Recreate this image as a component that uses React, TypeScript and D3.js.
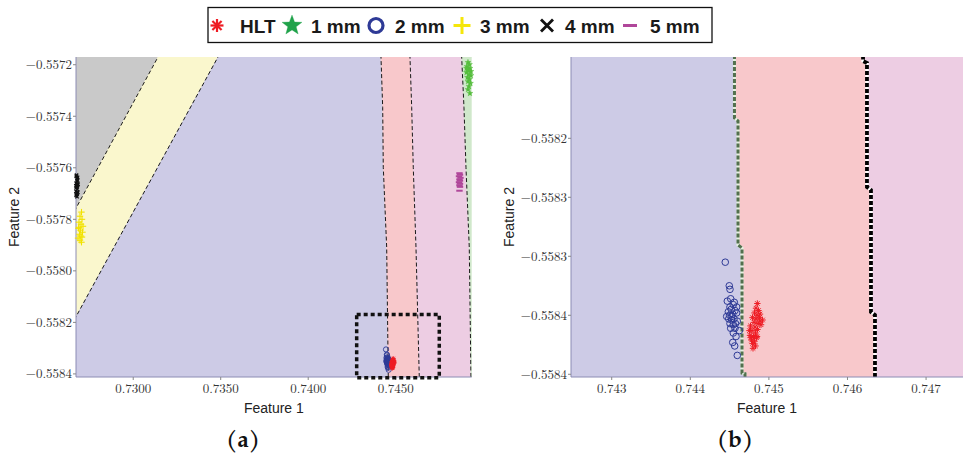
import React from 'react';
import * as d3 from 'd3';

type P = [number, number];

// ---------- tick values & labels ----------
const leftXTicks = [0.73, 0.735, 0.74, 0.745];
const leftXTickLabels = ['0.7300', '0.7350', '0.7400', '0.7450'];
const leftYTicks = [-0.5572, -0.5574, -0.5576, -0.5578, -0.558, -0.5582, -0.5584];
const leftYTickLabels = ['−0.5572', '−0.5574', '−0.5576', '−0.5578', '−0.5580', '−0.5582', '−0.5584'];
const rightXTicks = [0.743, 0.744, 0.745, 0.746, 0.747];
const rightXTickLabels = ['0.743', '0.744', '0.745', '0.746', '0.747'];
const rightYTicks = [-0.5582, -0.55825, -0.5583, -0.55835, -0.5584];
const rightYTickLabels = ['−0.5582', '−0.5583', '−0.5583', '−0.5584', '−0.5584'];

// ---------- legend ----------
const legendLabels = ['HLT', '1 mm', '2 mm', '3 mm', '4 mm', '5 mm'];

// ---------- data points (Feature 1, Feature 2) ----------
const hltPoints: P[] = [
  [0.744853, -0.55834], [0.744836, -0.558344], [0.744868, -0.558346], [0.744817, -0.558348],
  [0.744849, -0.55835], [0.744887, -0.558349], [0.744792, -0.558352], [0.744836, -0.558353],
  [0.744881, -0.558352], [0.744919, -0.558354], [0.744811, -0.558356], [0.744862, -0.558357],
  [0.7449, -0.558358], [0.744766, -0.558359], [0.744823, -0.55836], [0.744855, -0.558362],
  [0.744785, -0.558363], [0.74483, -0.558365], [0.74476, -0.558367], [0.744804, -0.558368],
  [0.744842, -0.558369], [0.744779, -0.558371], [0.744817, -0.558372], [0.744792, -0.558374],
  [0.74483, -0.558376], [0.744798, -0.558378], [0.744753, -0.558363], [0.744887, -0.558355],
  [0.744849, -0.558368], [0.744772, -0.558369],
];
const mm2Points: P[] = [
  [0.744445, -0.558305], [0.744496, -0.558325], [0.744505, -0.558328], [0.744471, -0.558338],
  [0.744514, -0.558336], [0.744547, -0.558341], [0.744505, -0.558343], [0.744569, -0.558346],
  [0.744484, -0.558347], [0.74454, -0.558349], [0.74459, -0.558348], [0.744489, -0.558353],
  [0.744527, -0.558354], [0.744598, -0.558355], [0.744547, -0.558358], [0.744505, -0.558357],
  [0.744569, -0.558361], [0.744624, -0.558363], [0.744582, -0.558368], [0.74454, -0.558373],
  [0.744565, -0.558376], [0.744598, -0.558384], [0.744463, -0.558351], [0.744527, -0.558351],
  [0.744556, -0.558353], [0.744514, -0.558361], [0.744547, -0.558365], [0.74459, -0.558343],
  [0.74452, -0.558345], [0.74456, -0.558339], [0.7445, -0.55835], [0.744575, -0.558357],
];
const mm1Points: P[] = [
  [0.74913, -0.557191], [0.749216, -0.557199], [0.749073, -0.557207], [0.749244, -0.557214],
  [0.749159, -0.557222], [0.749044, -0.55723], [0.749187, -0.557238], [0.749301, -0.557242],
  [0.749101, -0.557249], [0.749216, -0.557257], [0.74913, -0.557265], [0.749273, -0.557272],
  [0.749187, -0.557284], [0.74913, -0.557296], [0.749244, -0.557311], [0.749044, -0.557214],
  [0.749301, -0.557226],
];
const mm3Points: P[] = [
  [0.727044, -0.557772], [0.726959, -0.557788], [0.727073, -0.5578], [0.726901, -0.557811],
  [0.727016, -0.557819], [0.72713, -0.557827], [0.726873, -0.557835], [0.726987, -0.557842],
  [0.727101, -0.55785], [0.72693, -0.557858], [0.727016, -0.557865], [0.726844, -0.557873],
  [0.726959, -0.557881], [0.727044, -0.557889], [0.726901, -0.557831], [0.727073, -0.557869],
];
const mm4Points: P[] = [
  [0.726759, -0.557629], [0.726816, -0.557637], [0.726719, -0.557645], [0.726787, -0.557652],
  [0.726741, -0.55766], [0.726844, -0.557664], [0.726776, -0.557672], [0.726701, -0.55768],
  [0.726804, -0.557683], [0.72673, -0.557691], [0.726833, -0.557695], [0.726759, -0.557703],
  [0.726787, -0.557712], [0.72673, -0.55767], [0.726816, -0.557648], [0.726745, -0.557633],
  [0.726801, -0.557641], [0.726724, -0.557656], [0.726812, -0.557668], [0.726752, -0.557676],
  [0.726724, -0.557687], [0.726795, -0.557699], [0.726741, -0.557707],
];
const mm5Points: P[] = [
  [0.748644, -0.557621], [0.748673, -0.557627], [0.748616, -0.557633], [0.748701, -0.557639],
  [0.748644, -0.557645], [0.748673, -0.55765], [0.748616, -0.557656], [0.748673, -0.557662],
  [0.748644, -0.557668], [0.748673, -0.557674], [0.748644, -0.557689],
];

// ---------- decision boundaries (bottom -> top) ----------
const leftB43: P[] = [[0.7215, -0.558412], [0.731416, -0.55717]];
const leftB32: P[] = [[0.724846, -0.558412], [0.734844, -0.55717]];
const leftB2H: P[] = [[0.744576, -0.558412], [0.744484, -0.557908], [0.74429, -0.557598], [0.744256, -0.557365], [0.744159, -0.55717]];
const leftBH5: P[] = [[0.746347, -0.558412], [0.746159, -0.557908], [0.746004, -0.557598], [0.745913, -0.557365], [0.745816, -0.55717]];
const leftB51: P[] = [[0.749301, -0.558412], [0.749204, -0.557908], [0.749016, -0.557598], [0.748901, -0.557365], [0.74877, -0.55717]];
const zoomBox: P[] = [[0.74277, -0.558415], [0.74749, -0.558169]];

const rightB2H: P[] = [
  [0.744696, -0.5584023], [0.744696, -0.5583995], [0.744658, -0.558399], [0.744658, -0.558293],
  [0.744607, -0.5582904], [0.744607, -0.5581853], [0.744562, -0.5581828], [0.744562, -0.5581311],
];
const rightBH5: P[] = [
  [0.74635, -0.5584023], [0.74635, -0.5583497], [0.746299, -0.5583472], [0.746299, -0.5582438],
  [0.746248, -0.5582413], [0.746248, -0.5581362], [0.746198, -0.5581345], [0.746198, -0.5581311],
];

const C = {
  gray: '#c9c9c9', yellow: '#faf7cd', lav: '#cdcbe6', pink: '#f8c8cb', mag: '#edcde3', green: '#d0e8cb',
  red: '#ee1c24', blue: '#2e3a96', lgreen: '#20a24a', dgreen: '#55bd3c', yel: '#f2e200', mgt: '#b0479a',
};

type MType = 'asterisk' | 'star' | 'circle' | 'plus' | 'cross' | 'dash';

function starPath(cx: number, cy: number, r: number) {
  const pts: string[] = [];
  for (let i = 0; i < 10; i++) {
    const rr = i % 2 === 0 ? r : r * 0.42;
    const a = -Math.PI / 2 + (i * Math.PI) / 5;
    pts.push(`${cx + rr * Math.cos(a)},${cy + rr * Math.sin(a)}`);
  }
  return 'M' + pts.join('L') + 'Z';
}

function Marker({ t, x, y, s, color, sw }: { t: MType; x: number; y: number; s: number; color: string; sw: number }) {
  if (t === 'circle') return <circle cx={x} cy={y} r={s} fill="none" stroke={color} strokeWidth={sw} />;
  if (t === 'star') return <path d={starPath(x, y, s)} fill={color} stroke={color} strokeWidth={sw * 0.3} />;
  let angles: number[] = [];
  if (t === 'asterisk') angles = [0, 45, 90, 135];
  if (t === 'plus') angles = [0, 90];
  if (t === 'cross') angles = [45, 135];
  if (t === 'dash') angles = [0];
  return (
    <g stroke={color} strokeWidth={sw} strokeLinecap="butt">
      {angles.map((a) => {
        const r = (a * Math.PI) / 180;
        const dx = Math.cos(r) * s, dy = Math.sin(r) * s;
        return <line key={a} x1={x - dx} y1={y - dy} x2={x + dx} y2={y + dy} />;
      })}
    </g>
  );
}

type Series = { pts: P[]; t: MType; color: string; s: number; sw: number };

type PanelProps = {
  id: string;
  xs: d3.ScaleLinear<number, number>;
  ys: d3.ScaleLinear<number, number>;
  regions: { a: P[]; b: P[]; fill: string }[];
  lines: { pts: P[]; kind: 'thin' | 'green' | 'black' }[];
  series: Series[];
  xTicks: number[]; xLabels: string[]; yTicks: number[]; yLabels: string[];
  caption: string;
  captionX: number;
  box?: P[];
};

function Panel(p: PanelProps) {
  const [x0, x1] = p.xs.range();
  const [y0, y1] = p.ys.range(); // y0 bottom, y1 top
  const line = d3.line<P>().x((d) => p.xs(d[0])).y((d) => p.ys(d[1]));
  const poly = (a: P[], b: P[]) => line([...a, ...b.slice().reverse()]) + 'Z';
  const [dx0, dx1] = p.xs.domain();
  const [dy0, dy1] = p.ys.domain();
  const inDom = (d: P) => d[0] >= dx0 && d[0] <= dx1 && d[1] >= dy0 && d[1] <= dy1;
  const tickFont = { fontFamily: '"Latin Modern Roman","CMU Serif","Liberation Serif",serif', fontSize: 13, fill: '#333' };
  const cy = (y0 + y1) / 2;
  return (
    <g>
      <defs>
        <clipPath id={p.id}>
          <rect x={x0} y={y1} width={x1 - x0} height={y0 - y1} />
        </clipPath>
      </defs>
      <g clipPath={`url(#${p.id})`}>
        {p.regions.map((r, i) => (
          <path key={i} d={poly(r.a, r.b)} fill={r.fill} stroke={r.fill} strokeWidth={0.5} />
        ))}
        {p.lines.map((l, i) => {
          const d = line(l.pts) || '';
          if (l.kind === 'thin')
            return <path key={i} d={d} fill="none" stroke="#1a1a1a" strokeWidth={1} strokeDasharray="4 2.5" />;
          if (l.kind === 'green')
            return (
              <g key={i}>
                <path d={d} fill="none" stroke="#e3f0df" strokeWidth={3} />
                <path d={d} fill="none" stroke="#52704e" strokeWidth={3} strokeDasharray="4 2" />
              </g>
            );
          return (
            <g key={i}>
              <path d={d} fill="none" stroke="#ffffff" strokeWidth={3.2} />
              <path d={d} fill="none" stroke="#000" strokeWidth={3.8} strokeDasharray="4 2" />
            </g>
          );
        })}
      </g>
      {/* axes */}
      <line x1={x0} y1={y0} x2={x1} y2={y0} stroke="#8c8cb4" strokeWidth={1} />
      <line x1={x0} y1={y0} x2={x0} y2={y1} stroke="#8c8cb4" strokeWidth={1} />
      {p.xTicks.map((t, i) => (
        <g key={'x' + i}>
          <line x1={p.xs(t)} x2={p.xs(t)} y1={y0} y2={y0 + 3} stroke="#888" />
          <text x={p.xs(t)} y={y0 + 16} textAnchor="middle" {...tickFont}>{p.xLabels[i]}</text>
        </g>
      ))}
      {p.yTicks.map((t, i) => (
        <g key={'y' + i}>
          <line x1={x0 - 3} x2={x0} y1={p.ys(t)} y2={p.ys(t)} stroke="#888" />
          <text x={x0 - 4} y={p.ys(t) + 4.5} textAnchor="end" {...tickFont}>{p.yLabels[i]}</text>
        </g>
      ))}
      {p.box && (
        <rect x={p.xs(p.box[0][0])} y={p.ys(p.box[1][1])} width={p.xs(p.box[1][0]) - p.xs(p.box[0][0])}
          height={p.ys(p.box[0][1]) - p.ys(p.box[1][1])} fill="none" stroke="#111" strokeWidth={3.5} strokeDasharray="4 3" />
      )}
      {p.series.map((s, si) => (
        <g key={si}>
          {s.pts.filter(inDom).map((d, i) => (
            <Marker key={i} t={s.t} x={p.xs(d[0])} y={p.ys(d[1])} s={s.s} color={s.color} sw={s.sw} />
          ))}
        </g>
      ))}
      <text x={(x0 + Math.min(x1, 963)) / 2} y={413} textAnchor="middle" fontFamily='"Liberation Sans",Arial,sans-serif' fontSize={14} fill="#222">Feature 1</text>
      <text transform={`translate(${x0 - 57},${cy}) rotate(-90)`} textAnchor="middle" fontFamily='"Liberation Sans",Arial,sans-serif' fontSize={14} fill="#222">Feature 2</text>
      <text x={p.captionX} y={447} textAnchor="middle" fontFamily='"TeX Gyre Pagella","Palatino Linotype","Liberation Serif",serif' fontWeight="bold" fontSize={23} fill="#111">{p.caption}</text>
    </g>
  );
}

export default function App() {
  const leftX = d3.scaleLinear().domain([0.72673, 0.749343]).range([76, 471.7]);
  const leftY = d3.scaleLinear().domain([-0.558412, -0.55717]).range([377, 57]);
  const rightX = d3.scaleLinear().domain([0.742482, 0.74747]).range([571, 963]);
  const rightY = d3.scaleLinear().domain([-0.5584023, -0.5581311]).range([377, 57]);

  const edge = (xv: number, ys: d3.ScaleLinear<number, number>): P[] => {
    const [a, b] = ys.domain();
    return [[xv, a], [xv, b]];
  };

  const leftSeries: Series[] = [
    { pts: mm4Points, t: 'cross', color: '#111', s: 2.4, sw: 1.3 },
    { pts: mm3Points, t: 'plus', color: C.yel, s: 3.2, sw: 1.1 },
    { pts: mm5Points, t: 'dash', color: C.mgt, s: 3.2, sw: 2 },
    { pts: mm1Points, t: 'star', color: C.dgreen, s: 3.2, sw: 1 },
    { pts: mm2Points, t: 'circle', color: C.blue, s: 2.6, sw: 0.9 },
    { pts: hltPoints, t: 'asterisk', color: C.red, s: 2.4, sw: 1 },
  ];
  const rightSeries: Series[] = [
    { pts: mm2Points, t: 'circle', color: C.blue, s: 3.3, sw: 1 },
    { pts: hltPoints, t: 'asterisk', color: C.red, s: 3.2, sw: 1 },
  ];

  const legendItems: { t: MType; color: string; mx: number; tx: number; s: number; sw: number }[] = [
    { t: 'asterisk', color: C.red, mx: 217, tx: 240, s: 6.5, sw: 2.2 },
    { t: 'star', color: C.lgreen, mx: 292, tx: 311, s: 10.5, sw: 1 },
    { t: 'circle', color: C.blue, mx: 376, tx: 395, s: 7, sw: 3.2 },
    { t: 'plus', color: '#f5e60a', mx: 462, tx: 480, s: 8.5, sw: 3 },
    { t: 'cross', color: '#111', mx: 547, tx: 565, s: 8.5, sw: 2.8 },
    { t: 'dash', color: C.mgt, mx: 630, tx: 650, s: 7, sw: 3 },
  ];

  return (
    <svg width={963} height={457} style={{ position: 'absolute', left: 0, top: 0, background: '#fff' }}>
      <rect x={0} y={0} width={963} height={457} fill="#fff" />
      <Panel
        id="clipA"
        xs={leftX}
        ys={leftY}
        regions={[
          { a: edge(0.72, leftY), b: leftB43, fill: C.gray },
          { a: leftB43, b: leftB32, fill: C.yellow },
          { a: leftB32, b: leftB2H, fill: C.lav },
          { a: leftB2H, b: leftBH5, fill: C.pink },
          { a: leftBH5, b: leftB51, fill: C.mag },
          { a: leftB51, b: edge(0.76, leftY), fill: C.green },
        ]}
        lines={[
          { pts: leftB43, kind: 'thin' },
          { pts: leftB32, kind: 'thin' },
          { pts: leftB2H, kind: 'thin' },
          { pts: leftBH5, kind: 'thin' },
          { pts: leftB51, kind: 'thin' },
        ]}
        series={leftSeries}
        xTicks={leftXTicks}
        xLabels={leftXTickLabels}
        yTicks={leftYTicks}
        yLabels={leftYTickLabels}
        caption="(a)"
        captionX={243}
        box={zoomBox}
      />
      <Panel
        id="clipB"
        xs={rightX}
        ys={rightY}
        regions={[
          { a: edge(0.74, rightY), b: rightB2H, fill: C.lav },
          { a: rightB2H, b: rightBH5, fill: C.pink },
          { a: rightBH5, b: edge(0.75, rightY), fill: C.mag },
        ]}
        lines={[
          { pts: rightB2H, kind: 'green' },
          { pts: rightBH5, kind: 'black' },
        ]}
        series={rightSeries}
        xTicks={rightXTicks}
        xLabels={rightXTickLabels}
        yTicks={rightYTicks}
        yLabels={rightYTickLabels}
        caption="(b)"
        captionX={735}
      />
      {/* legend */}
      <rect x={208} y={7.5} width={504} height={35} fill="#fff" stroke="#111" strokeWidth={1.3} />
      {legendItems.map((it, i) => (
        <g key={i}>
          <Marker t={it.t} x={it.mx} y={25.5} s={it.s} color={it.color} sw={it.sw} />
          <text x={it.tx} y={33} fontFamily='"Liberation Sans",Arial,sans-serif' fontWeight="bold" fontSize={19} fill="#1a1a1a">
            {legendLabels[i]}
          </text>
        </g>
      ))}
    </svg>
  );
}
